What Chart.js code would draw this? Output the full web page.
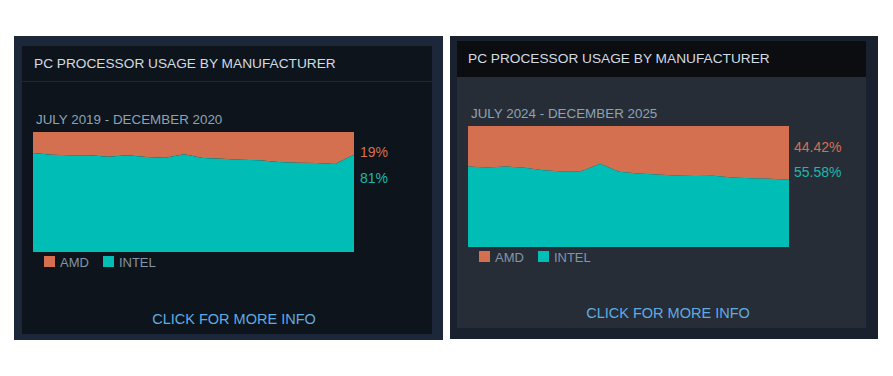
<!DOCTYPE html>
<html>
<head>
<meta charset="utf-8">
<script src="https://cdn.jsdelivr.net/npm/chart.js@4.4.1/dist/chart.umd.min.js"></script>
<style>
  html, body { margin: 0; padding: 0; background: #ffffff; width: 893px; height: 376px; overflow: hidden; }
  body { position: relative; font-family: "Liberation Sans", Arial, sans-serif; }
  .frame { position: absolute; }
  .inner { position: absolute; }
  .abs { position: absolute; white-space: nowrap; }
  .head { font-size: 13.7px; color: #d3dbe2; line-height: 16px; }
  .sub { font-size: 13.4px; color: #8da2b5; line-height: 15px; }
  .pct { font-size: 14px; line-height: 16px; }
  .link { font-size: 14.5px; color: #5fabe3; line-height: 16px; transform: translateX(-50%); }
  .leg { font-size: 13px; color: #8395a7; line-height: 13px; }
  .leg span.box { display: inline-block; width: 11px; height: 11px; vertical-align: top; margin-right: 5px; }
  .leg span.item { display: inline-block; margin-right: 14px; }
  canvas { position: absolute; }
</style>
</head>
<body>

<!-- left panel -->
<div class="frame" style="left:14px;top:36px;width:429px;height:304px;background:#1c2839;"></div>
<div class="inner" style="left:22px;top:46px;width:410px;height:288px;background:#0e141b;"></div>
<div class="inner" style="left:22px;top:81px;width:410px;height:1px;background:#1d2934;"></div>
<div class="abs head" style="left:34px;top:56px;">PC PROCESSOR USAGE BY MANUFACTURER</div>
<div class="abs sub" style="left:36px;top:112px;">JULY 2019 - DECEMBER 2020</div>
<canvas id="chartLeft" width="321" height="120" style="left:33px;top:132px;"></canvas>
<div class="abs pct" id="amdPctLeft" style="left:360px;top:144px;color:#d6704f;"></div>
<div class="abs pct" id="intelPctLeft" style="left:360px;top:170px;color:#1fb7ae;"></div>
<div class="abs leg" id="legLeft" style="left:44px;top:256px;"></div>
<div class="abs link" style="left:234px;top:311px;">CLICK FOR MORE INFO</div>

<!-- right panel -->
<div class="frame" style="left:450px;top:36px;width:428px;height:303px;background:#19212e;"></div>
<div class="inner" style="left:457px;top:41px;width:409px;height:36px;background:#0b0d10;"></div>
<div class="inner" style="left:457px;top:77px;width:409px;height:251px;background:#272d36;"></div>
<div class="abs head" style="left:468px;top:51px;">PC PROCESSOR USAGE BY MANUFACTURER</div>
<div class="abs sub" style="left:471px;top:106px;">JULY 2024 - DECEMBER 2025</div>
<canvas id="chartRight" width="321" height="121" style="left:468px;top:126px;"></canvas>
<div class="abs pct" id="amdPctRight" style="left:794px;top:139px;color:#d6704f;"></div>
<div class="abs pct" id="intelPctRight" style="left:794px;top:164px;color:#1fb7ae;"></div>
<div class="abs leg" id="legRight" style="left:479px;top:251px;"></div>
<div class="abs link" style="left:668px;top:305px;">CLICK FOR MORE INFO</div>

<script>
// months shown in each panel
var monthsLeft = ['Jul 2019','Aug 2019','Sep 2019','Oct 2019','Nov 2019','Dec 2019','Jan 2020','Feb 2020','Mar 2020',
                  'Apr 2020','May 2020','Jun 2020','Jul 2020','Aug 2020','Sep 2020','Oct 2020','Nov 2020','Dec 2020'];
var monthsRight = ['Jul 2024','Aug 2024','Sep 2024','Oct 2024','Nov 2024','Dec 2024','Jan 2025','Feb 2025','Mar 2025',
                   'Apr 2025','May 2025','Jun 2025','Jul 2025','Aug 2025','Sep 2025','Oct 2025','Nov 2025','Dec 2025'];

// share in percent
var intelLeft = [82.5, 81.1, 80.6, 80.6, 79.4, 80.6, 79.2, 78.6, 81.5, 78.3, 77.8, 76.9, 76.4, 75.0, 74.4, 74.2, 73.3, 81.0];
var amdLeft   = [17.5, 18.9, 19.4, 19.4, 20.6, 19.4, 20.8, 21.4, 18.5, 21.7, 22.2, 23.1, 23.6, 25.0, 25.6, 25.8, 26.7, 19.0];

var intelRight = [66.6, 65.7, 66.6, 65.5, 63.5, 62.4, 62.7, 68.8, 62.2, 60.8, 59.9, 59.1, 58.6, 58.8, 57.5, 56.9, 56.4, 55.58];
var amdRight   = [33.4, 34.3, 33.4, 34.5, 36.5, 37.6, 37.3, 31.2, 37.8, 39.2, 40.1, 40.9, 41.4, 41.2, 42.5, 43.1, 43.6, 44.42];

var seriesNames = ['AMD', 'INTEL'];
var amdColor = '#d46f4f';
var intelColor = '#00bdb5';

function makeChart(id, labels, intel, amd) {
  return new Chart(document.getElementById(id), {
    type: 'line',
    data: {
      labels: labels,
      datasets: [{
          label: seriesNames[1],
          data: intel,
          backgroundColor: intelColor,
          borderWidth: 0,
          fill: 'origin'
        }, {
          label: seriesNames[0],
          data: amd,
          backgroundColor: amdColor,
          borderWidth: 0,
          fill: '-1'
        }]
    },
    options: {
      responsive: false,
      animation: false,
      layout: { padding: 0 },
      elements: { point: { radius: 0 }, line: { tension: 0 } },
      plugins: { legend: { display: false }, tooltip: { enabled: false } },
      scales: {
        x: { display: false, offset: false },
        y: { display: false, stacked: true, min: 0, max: 100 }
      }
    }
  });
}

makeChart('chartLeft', monthsLeft, intelLeft, amdLeft);
makeChart('chartRight', monthsRight, intelRight, amdRight);

function fmt(v) { return (Math.round(v * 100) / 100) + '%'; }
document.getElementById('amdPctLeft').textContent = fmt(amdLeft[amdLeft.length - 1]);
document.getElementById('intelPctLeft').textContent = fmt(intelLeft[intelLeft.length - 1]);
document.getElementById('amdPctRight').textContent = fmt(amdRight[amdRight.length - 1]);
document.getElementById('intelPctRight').textContent = fmt(intelRight[intelRight.length - 1]);

function legend(id) {
  var colors = [amdColor, intelColor];
  var html = '';
  for (var i = 0; i < seriesNames.length; i++) {
    html += '<span class="item"><span class="box" style="background:' + colors[i] + '"></span>' + seriesNames[i] + '</span>';
  }
  document.getElementById(id).innerHTML = html;
}
legend('legLeft');
legend('legRight');
</script>
</body>
</html>
